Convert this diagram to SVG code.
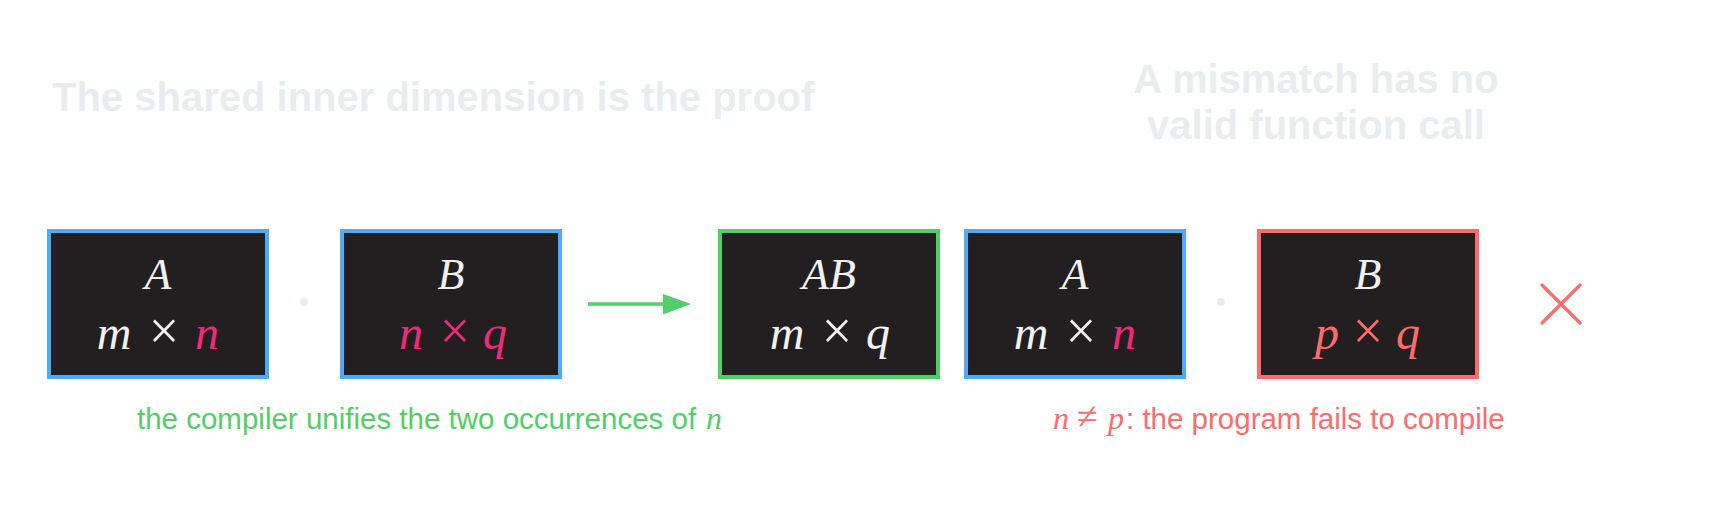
<svg xmlns="http://www.w3.org/2000/svg" width="1720" height="510" viewBox="0 0 1720 510">
  <style>
    .title { font-family: "Liberation Sans", Arial, sans-serif; font-weight: bold; font-size: 40px; fill: #e9ecef; }
    .box { fill: #231f20; stroke-width: 4; }
    .blue { stroke: #4dabf7; }
    .green { stroke: #51cf66; }
    .red { stroke: #ff6b6b; }
    .name { font-family: "Liberation Serif", "Times New Roman", serif; font-style: italic; font-size: 44px; fill: #f1f1f1; text-anchor: middle; }
    .dim { font-family: "Liberation Serif", "Times New Roman", serif; font-style: italic; font-size: 48px; fill: #f1f1f1; text-anchor: middle; }
    .op { font-style: normal; font-size: 54px; }
    .pink { fill: #ee2a7b; }
    .redt { fill: #ff6b6b; }
    .cap { font-family: "Liberation Sans", Arial, sans-serif; font-size: 29.5px; }
    .math { font-family: "Liberation Serif", "Times New Roman", serif; font-style: italic; font-size: 32px; }
    .rel { font-family: "Liberation Serif", "Times New Roman", serif; font-size: 38px; }
    .dot { fill: #e9ecef; }
  </style>

  <text class="title" x="52" y="111">The shared inner dimension is the proof</text>
  <text class="title" x="1316" y="93" text-anchor="middle">A mismatch has no</text>
  <text class="title" x="1316" y="139" text-anchor="middle">valid function call</text>

  <g id="nodeA">
    <rect class="box blue" x="49" y="231" width="218" height="146"/>
    <text class="name" x="158" y="289">A</text>
    <text class="dim" y="349"><tspan x="114">m</tspan><tspan class="op" x="164">×</tspan><tspan class="pink" x="207">n</tspan></text>
  </g>

  <circle class="dot" cx="304" cy="302" r="4"/>

  <g id="nodeB">
    <rect class="box blue" x="342" y="231" width="218" height="146"/>
    <text class="name" x="451" y="289">B</text>
    <text class="dim pink" y="349"><tspan x="411">n</tspan><tspan class="op" x="455">×</tspan><tspan x="495">q</tspan></text>
  </g>

  <g id="connectors">
    <line x1="588" y1="304" x2="664" y2="304" stroke="#51cf66" stroke-width="3.6"/>
    <polygon points="663,294 691,304 663,314.5" fill="#51cf66"/>
  </g>

  <g id="nodeAB">
    <rect class="box green" x="720" y="231" width="218" height="146"/>
    <text class="name" x="829" y="289">AB</text>
    <text class="dim" y="349"><tspan x="787">m</tspan><tspan class="op" x="837">×</tspan><tspan x="878">q</tspan></text>
  </g>

  <g id="nodeA2">
    <rect class="box blue" x="966" y="231" width="218" height="146"/>
    <text class="name" x="1075" y="289">A</text>
    <text class="dim" y="349"><tspan x="1031">m</tspan><tspan class="op" x="1081">×</tspan><tspan class="pink" x="1124">n</tspan></text>
  </g>

  <circle class="dot" cx="1221" cy="302" r="4"/>

  <g id="nodeB2">
    <rect class="box red" x="1259" y="231" width="218" height="146"/>
    <text class="name" x="1368" y="289">B</text>
    <text class="dim redt" y="349"><tspan x="1327">p</tspan><tspan class="op" x="1368">×</tspan><tspan x="1408">q</tspan></text>
  </g>

  <g id="cross">
    <path d="M1542,285 L1580,323 M1580,285 L1542,323" stroke="#ff6b6b" stroke-width="3.2" stroke-linecap="round" fill="none"/>
  </g>

  <text x="137" y="429" fill="#51cf66"><tspan class="cap">the compiler unifies the two occurrences of </tspan><tspan class="math" x="706">n</tspan></text>

  <text y="429" fill="#ff6b6b"><tspan class="math" x="1053">n</tspan><tspan class="rel" x="1077">≠</tspan><tspan class="math" x="1108">p</tspan><tspan class="cap" x="1126">: the program fails to compile</tspan></text>
</svg>
